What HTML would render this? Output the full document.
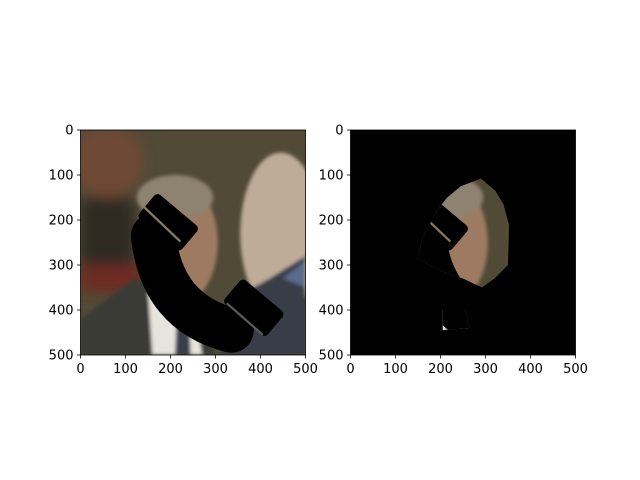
<!DOCTYPE html>
<html><head><meta charset="utf-8"><style>
body{margin:0;background:#fff;}
svg{display:block;font-family:"DejaVu Sans","Liberation Sans",sans-serif;}
</style></head><body>
<svg id="fig" width="640" height="480" viewBox="0 0 640 480">
<rect width="640" height="480" fill="#fff"/>
<defs>
<filter id="blur" x="-20%" y="-20%" width="140%" height="140%"><feGaussianBlur stdDeviation="14"/></filter>
<filter id="blur2"><feGaussianBlur stdDeviation="4"/></filter>
<clipPath id="cl"><rect x="0" y="0" width="500" height="500"/></clipPath>
<clipPath id="mask"><path d="M195,175 L215,150 L245,125 L290,108 L322,135 L340,165 L352,210 L350,300 L320,330 L292,350 L250,330 L205,315 L175,300 L150,285 L160,240 Z M205,400 L255,400 L265,440 L205,445 Z"/></clipPath>
<g id="scene">
<rect x="0" y="0" width="500" height="500" fill="#514a36"/>
<g filter="url(#blur)">
<ellipse cx="60" cy="70" rx="80" ry="80" fill="#6e4a34"/>
<rect x="0" y="300" width="140" height="60" fill="#6e2c22"/>
<rect x="0" y="150" width="120" height="150" fill="#2e2a20"/>
</g>
<g filter="url(#blur2)">
<ellipse cx="215" cy="250" rx="90" ry="140" fill="#9f7a62"/>
<ellipse cx="210" cy="150" rx="85" ry="50" fill="#8e8270"/>
<path d="M0,420 L120,330 L240,370 L300,500 L0,500 Z" fill="#3a3a36"/>
<path d="M150,360 L250,360 L270,500 L160,500 Z" fill="#e6e4dc"/>
<path d="M215,390 L240,390 L245,500 L210,500 Z" fill="#3a3c4c"/>
<ellipse cx="445" cy="230" rx="90" ry="180" fill="#bfac98"/>
<path d="M330,380 L420,330 L500,280 L500,500 L310,500 Z" fill="#383c46"/>
<path d="M450,330 L500,290 L500,350 Z" fill="#5a6a8a"/>
</g>
</g>
</defs>
<g id="left-axes"></g>
<g id="right-axes"></g>
</svg>
<script>
const ticks=[0,100,200,300,400,500];
const tickLabels=["0","100","200","300","400","500"];
const axes=[{id:"left-axes",x0:80.5,masked:false},{id:"right-axes",x0:350.5,masked:true}];
const y0=130, size=225, ext=500;
const NS="http://www.w3.org/2000/svg";
function mk(t,a,p){const e=document.createElementNS(NS,t);for(const k in a)e.setAttribute(k,a[k]);p.appendChild(e);return e;}
const phone='<path d="M162,235 Q180,405 335,445" fill="none" stroke="#000" stroke-width="100" stroke-linecap="round"/>'+
'<rect x="-62" y="-35" width="124" height="70" rx="10" transform="translate(195,205) rotate(40)" fill="#000"/>'+
'<rect x="-62" y="-35" width="124" height="70" rx="10" transform="translate(385,395) rotate(40)" fill="#000"/>'+
'<line x1="140" y1="170" x2="222" y2="248" stroke="#8a7a60" stroke-width="5"/>'+
'<line x1="325" y1="385" x2="405" y2="455" stroke="#5a5a55" stroke-width="5"/>';
axes.forEach(a=>{
  const g=document.getElementById(a.id);
  const sx=v=>a.x0+v*size/ext, sy=v=>y0+v*size/ext;
  const img=mk("g",{transform:`translate(${a.x0},${y0}) scale(${size/ext})`,"clip-path":"url(#cl)"},g);
  
  
  if(a.masked){
    img.innerHTML='<rect width="500" height="500" fill="#000"/><g clip-path="url(#mask)"><use href="#scene"/>'+phone+'</g>';
  } else {
    img.innerHTML='<use href="#scene"/>'+phone;
  }
  const fr=mk("rect",{x:a.x0,y:y0,width:size,height:size,fill:"none",stroke:"#000","stroke-width":0.8},g);
  
  
  ticks.forEach((t,i)=>{
    mk("line",{x1:sx(t),x2:sx(t),y1:y0+size,y2:y0+size+3.5,stroke:"#000","stroke-width":0.8},g);
    const xl=mk("text",{x:sx(t),y:y0+size+18,"text-anchor":"middle","font-size":"13px",fill:"#000"},g);
    xl.textContent=tickLabels[i];
    
    
    mk("line",{x1:a.x0-3.5,x2:a.x0,y1:sy(t),y2:sy(t),stroke:"#000","stroke-width":0.8},g);
    const yl=mk("text",{x:a.x0-7,y:sy(t)+4.5,"text-anchor":"end","font-size":"13px",fill:"#000"},g);
    yl.textContent=tickLabels[i];
    
    
  });
});
</script>
</body></html>
